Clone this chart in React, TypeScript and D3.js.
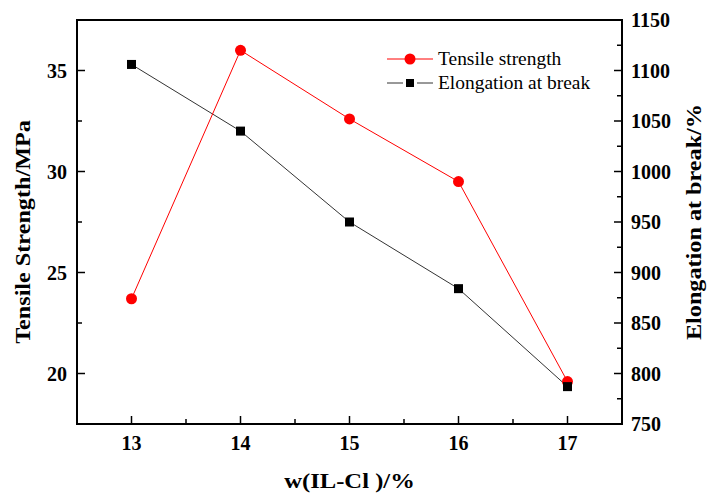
import { useEffect, useRef } from "react";
import * as d3 from "d3";

const ilContent = [13, 14, 15, 16, 17];
const tensile = [23.7, 36.0, 32.6, 29.5, 19.6];
const elongation = [1106, 1040, 950, 884, 787];
const xTicks = [13, 14, 15, 16, 17];
const leftTicks = [20, 25, 30, 35];
const rightTicks = [750, 800, 850, 900, 950, 1000, 1050, 1100, 1150];

const W = 713;
const H = 493;
const FONT = "Liberation Serif, Times New Roman, Times, DejaVu Serif, serif";

export default function App() {
  const svgRef = useRef<SVGSVGElement>(null);

  useEffect(() => {
    if (!svgRef.current) return;
    const svg = d3.select(svgRef.current);
    svg.selectAll("*").remove();

    const left = 77, right = 622, top = 20, bottom = 424;

    const x = d3.scaleLinear().domain([12.5, 17.5]).range([left, right]);
    const yL = d3.scaleLinear().domain([17.5, 37.5]).range([bottom, top]);
    const yR = d3.scaleLinear().domain([750, 1150]).range([bottom, top]);

    const g = svg.append("g").style("font-family", FONT);

    // frame
    g.append("rect")
      .attr("x", left).attr("y", top)
      .attr("width", right - left).attr("height", bottom - top)
      .attr("fill", "none").attr("stroke", "#000").attr("stroke-width", 2);

    const tick = (x1: number, y1: number, x2: number, y2: number) =>
      g.append("line")
        .attr("x1", x1).attr("y1", y1).attr("x2", x2).attr("y2", y2)
        .attr("stroke", "#000").attr("stroke-width", 1.5);

    // bottom ticks (inward)
    xTicks.forEach((v) => {
      tick(x(v), bottom, x(v), bottom - 8);
      g.append("text")
        .attr("x", x(v)).attr("y", bottom + 26)
        .attr("text-anchor", "middle")
        .attr("font-weight", "bold").attr("font-size", 20)
        .text(v);
    });
    [13.5, 14.5, 15.5, 16.5].forEach((v) => tick(x(v), bottom, x(v), bottom - 5));

    // left ticks
    leftTicks.forEach((v) => {
      tick(left, yL(v), left + 8, yL(v));
      g.append("text")
        .attr("x", left - 10).attr("y", yL(v))
        .attr("dy", "0.35em")
        .attr("text-anchor", "end")
        .attr("font-weight", "bold").attr("font-size", 20)
        .text(v);
    });
    [22.5, 27.5, 32.5].forEach((v) => tick(left, yL(v), left + 5, yL(v)));

    // right ticks
    rightTicks.forEach((v) => {
      if (v > 750 && v < 1150) tick(right, yR(v), right - 8, yR(v));
      g.append("text")
        .attr("x", right + 9).attr("y", yR(v))
        .attr("dy", "0.35em")
        .attr("text-anchor", "start")
        .attr("font-weight", "bold").attr("font-size", 20)
        .text(v);
    });
    d3.range(775, 1150, 50).forEach((v) => tick(right, yR(v), right - 5, yR(v)));

    // axis titles (slightly stretched along the text, as in the source image)
    g.append("text")
      .attr("transform", `translate(30,${(top + bottom) / 2 + 10}) rotate(-90) scale(1.1,1)`)
      .attr("text-anchor", "middle")
      .attr("font-weight", "bold").attr("font-size", 22)
      .text("Tensile Strength/MPa");
    g.append("text")
      .attr("transform", `translate(701,${(top + bottom) / 2}) rotate(-90) scale(1.1,1)`)
      .attr("text-anchor", "middle")
      .attr("font-weight", "bold").attr("font-size", 22)
      .text("Elongation at break/%");
    g.append("text")
      .attr("transform", `translate(${(left + right) / 2},488) scale(1.12,1)`)
      .attr("text-anchor", "middle")
      .attr("font-weight", "bold").attr("font-size", 22)
      .text("w(IL-Cl )/%");

    // elongation series
    const lineE = d3.line<number>()
      .x((_, i) => x(ilContent[i]))
      .y((d) => yR(d));
    g.append("path").datum(elongation)
      .attr("d", lineE).attr("fill", "none")
      .attr("stroke", "#333").attr("stroke-width", 1);

    // tensile series
    const lineT = d3.line<number>()
      .x((_, i) => x(ilContent[i]))
      .y((d) => yL(d));
    g.append("path").datum(tensile)
      .attr("d", lineT).attr("fill", "none")
      .attr("stroke", "#ff0000").attr("stroke-width", 1);

    g.selectAll("circle.t").data(tensile).join("circle")
      .attr("class", "t")
      .attr("cx", (_, i) => x(ilContent[i]))
      .attr("cy", (d) => yL(d))
      .attr("r", 5.5).attr("fill", "#ff0000");

    g.selectAll("rect.e").data(elongation).join("rect")
      .attr("class", "e")
      .attr("x", (_, i) => x(ilContent[i]) - 4.5)
      .attr("y", (d) => yR(d) - 4.5)
      .attr("width", 9).attr("height", 9).attr("fill", "#000");

    // legend
    const lx = 387, ly1 = 59, ly2 = 83;
    g.append("line").attr("x1", lx).attr("x2", lx + 46).attr("y1", ly1).attr("y2", ly1)
      .attr("stroke", "#ff0000").attr("stroke-width", 1);
    g.append("circle").attr("cx", lx + 23).attr("cy", ly1).attr("r", 5.5).attr("fill", "#ff0000");
    g.append("text").attr("transform", `translate(${lx + 51},${ly1}) scale(1.08,1)`).attr("dy", "0.35em")
      .attr("font-size", 18).text("Tensile strength");

    g.append("line").attr("x1", lx).attr("x2", lx + 16).attr("y1", ly2).attr("y2", ly2)
      .attr("stroke", "#333").attr("stroke-width", 1);
    g.append("line").attr("x1", lx + 30).attr("x2", lx + 46).attr("y1", ly2).attr("y2", ly2)
      .attr("stroke", "#333").attr("stroke-width", 1);
    g.append("rect").attr("x", lx + 19).attr("y", ly2 - 4).attr("width", 8).attr("height", 8)
      .attr("fill", "#000");
    g.append("text").attr("transform", `translate(${lx + 51},${ly2}) scale(1.08,1)`).attr("dy", "0.35em")
      .attr("font-size", 18).text("Elongation at break");
  }, []);

  return (
    <svg
      ref={svgRef}
      width={W}
      height={H}
      style={{ position: "absolute", left: 0, top: 0, background: "#fff" }}
    />
  );
}
